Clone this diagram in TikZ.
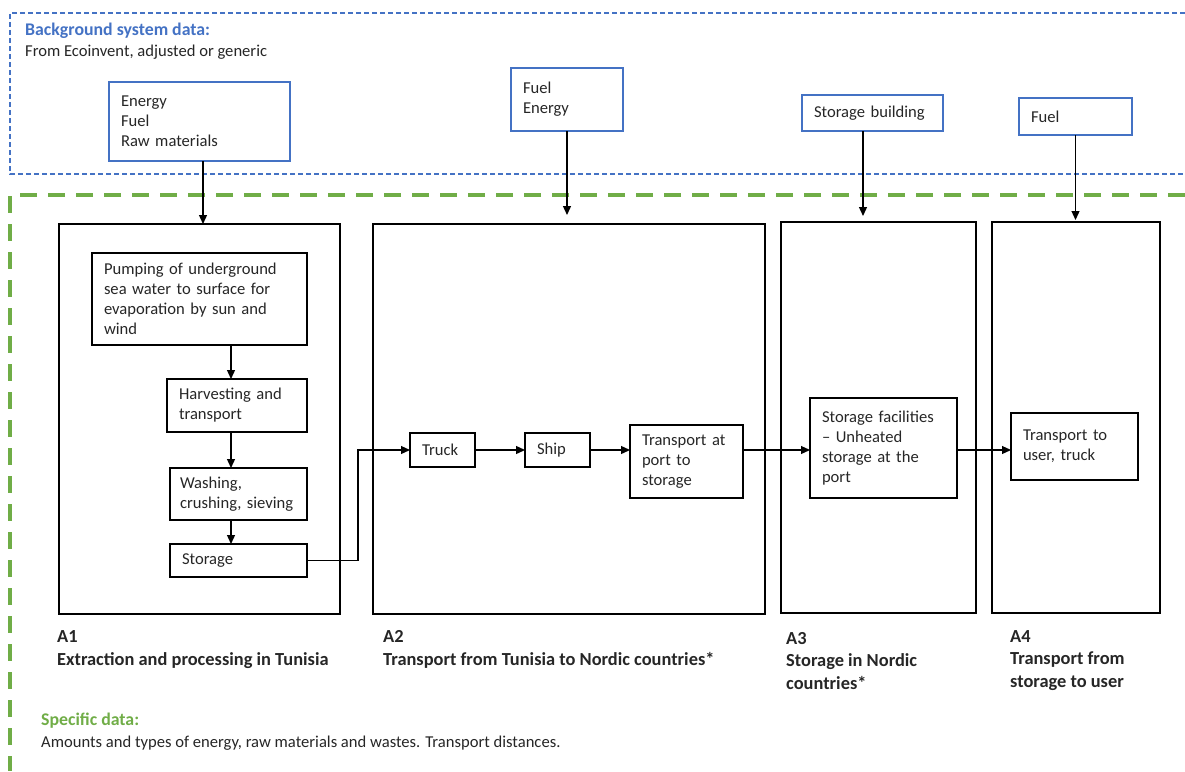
\documentclass[tikz,border=0pt]{standalone}
\usepackage{fontspec}
\setmainfont{Carlito}
\usepackage{tikz}
\usetikzlibrary{arrows.meta,positioning,calc}
\definecolor{bgblue}{HTML}{4472C4}
\definecolor{spgreen}{HTML}{70AD47}

\begin{document}
\begin{tikzpicture}[x=1pt, y=-1pt,
    every node/.style={font=\fontsize{16.6}{20}\selectfont, text=black!85},
    inbox/.style={rectangle, draw=bgblue, line width=1.3pt, align=left, inner xsep=12pt, inner ysep=0pt, outer sep=0pt},
    proc/.style={rectangle, draw, line width=1.5pt, align=left, inner xsep=12pt, inner ysep=0pt, outer sep=0pt},
    stage/.style={rectangle, draw, line width=1.6pt, inner sep=0pt, outer sep=0pt},
    stagelabel/.style={anchor=base west, align=left, inner sep=0pt, font=\fontsize{18.4}{22.5}\selectfont\bfseries},
    datatitle/.style={anchor=base west, inner sep=0pt, font=\fontsize{17.8}{20}\selectfont\bfseries},
    bgdash/.style={draw=bgblue, line width=1.2pt, dash pattern=on 5pt off 3pt},
    spdash/.style={draw=spgreen, line width=3.5pt, dash pattern=on 17pt off 11pt},
    arrow/.style={-{Triangle[width=8pt,length=9pt]}, line width=1.3pt}]

    \useasboundingbox (0,0) rectangle (1185,771);

    % data frames
    \draw[bgdash] (1185,13) -- (10,13) -- (10,174) -- (1185,174);
    \draw[spdash] (1185,195) -- (10,195) -- (10,771);

    \node[datatitle, text=bgblue] (bgtitle) at (25,35.5) {Background system data:};
    \node[anchor=base west, inner sep=0pt] (bgtext) at (25,56.5) {From Ecoinvent, adjusted or generic};
    \node[datatitle, text=spgreen] (sptitle) at (41,725.5) {Specific data:};
    \node[anchor=base west, inner sep=0pt] (sptext) at (41,747.5) {Amounts and types of energy, raw materials and wastes. Transport distances.};

    % background inputs
    \node[inbox, minimum width=181pt, minimum height=79pt, text width=157pt] (energy) at (199.5,121.5) {Energy\\Fuel\\Raw materials};
    \node[inbox, minimum width=112pt, minimum height=63pt, text width=88pt] (fuelen) at (567,99.5) {Fuel\\Energy};
    \node[inbox, minimum width=141pt, minimum height=36pt, text width=117pt] (storb) at (872.5,113) {Storage building};
    \node[inbox, minimum width=113pt, minimum height=37pt, text width=89pt] (fuel) at (1075.5,116.5) {Fuel};

    % stages
    \node[stage, minimum width=281pt, minimum height=390pt] (a1) at (199.5,419) {};
    \node[stage, minimum width=392pt, minimum height=390pt] (a2) at (569,419) {};
    \node[stage, minimum width=195pt, minimum height=391pt] (a3) at (878.5,417.5) {};
    \node[stage, minimum width=168pt, minimum height=391pt] (a4) at (1076,417.5) {};

    \node[stagelabel] (a1lab) at (57,665) {A1\\Extraction and processing in Tunisia};
    \node[stagelabel] (a2lab) at (383,665) {A2\\Transport from Tunisia to Nordic countries*};
    \node[stagelabel] (a3lab) at (786,689) {A3\\Storage in Nordic\\countries*};
    \node[stagelabel] (a4lab) at (1010,687) {A4\\Transport from\\storage to user};

    % A1 processes
    \node[proc, minimum width=215pt, minimum height=92pt, text width=191pt] (pump) at (199.5,299) {Pumping of underground\\sea water to surface for\\evaporation by sun and\\wind};
    \node[proc, minimum width=140pt, minimum height=53pt, text width=116pt] (harv) at (237,405.5) {Harvesting and\\transport};
    \node[proc, minimum width=137pt, minimum height=52pt, text width=117pt, inner xsep=10pt] (wash) at (238.5,494) {Washing,\\crushing, sieving};
    \node[proc, minimum width=137pt, minimum height=33pt, text width=113pt] (stor) at (238.5,560.5) {Storage};
    \coordinate (spine) at (231,0);

    % A2 - A4 processes
    \node[proc, minimum width=65pt, minimum height=34pt, text width=41pt] (truck) at (442.5,450) {Truck};
    \node[proc, minimum width=65pt, minimum height=34pt, text width=41pt] (ship) at (557.5,450) {Ship};
    \node[proc, minimum width=113pt, minimum height=73pt, text width=89pt] (tport) at (686.5,461.5) {Transport at\\port to\\storage};
    \node[proc, minimum width=147pt, minimum height=100pt, text width=123pt] (sfac) at (883.5,448) {Storage facilities\\-- Unheated\\storage at the\\port};
    \node[proc, minimum width=127pt, minimum height=67pt, text width=103pt] (tuser) at (1074.5,446.5) {Transport to\\user, truck};

    % inputs into stages
    \draw[arrow] ([xshift=3.5pt]energy.south) -- ([xshift=3.5pt]energy.south |- a1.north);
    \draw[arrow, shorten >=9pt] (fuelen.south) -- (fuelen.south |- a2.north);
    \draw[arrow, shorten >=6pt] ([xshift=-9.5pt]storb.south) -- ([xshift=-9.5pt]storb.south |- a3.north);
    \draw[arrow, shorten >=2pt] (fuel.south) -- (fuel.south |- a4.north);

    % process chain
    \draw[arrow] (pump.south -| spine) -- (harv.north -| spine);
    \draw[arrow] (harv.south -| spine) -- (wash.north -| spine);
    \draw[arrow] (wash.south -| spine) -- (stor.north -| spine);
    \draw[arrow, line width=1.1pt] (stor.east) -- ++(51,0) |- (truck.west);
    \draw[arrow] (truck) -- (ship);
    \draw[arrow] (ship.east) -- (ship.east -| tport.west);
    \draw[arrow, line width=1.1pt] (ship.east -| tport.east) -- (ship.east -| sfac.west);
    \draw[arrow, line width=1.1pt] (ship.east -| sfac.east) -- (ship.east -| tuser.west);
\end{tikzpicture}
\end{document}
